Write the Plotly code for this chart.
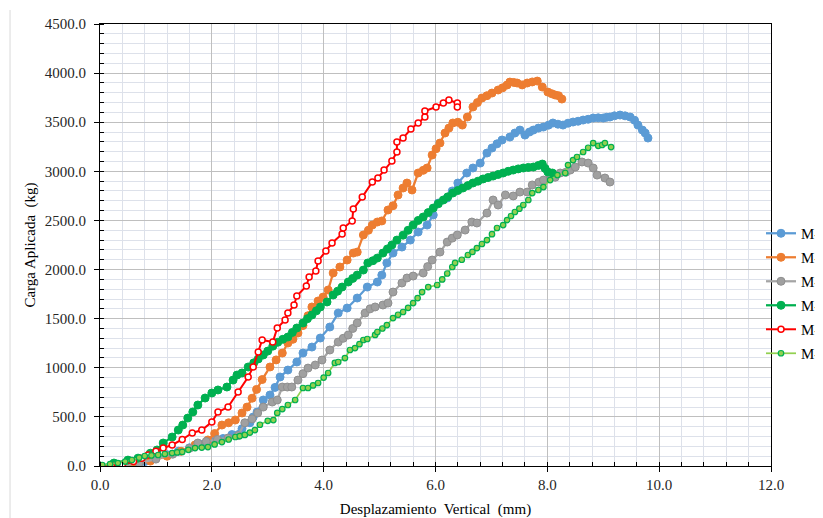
import plotly.graph_objects as go

# ---------------- data ----------------
m1_x = [0.0, 0.3, 0.6, 0.8, 1.0, 1.2, 1.4, 1.6, 1.8, 2.0,
        2.2, 2.36, 2.54, 2.68, 2.74, 2.81, 2.92, 3.04, 3.13, 3.22,
        3.36, 3.52, 3.63, 3.79, 3.94, 4.11, 4.26, 4.42, 4.6, 4.78,
        4.96, 5.04, 5.13, 5.24, 5.4, 5.55, 5.69, 5.85, 5.96, 6.05,
        6.21, 6.3, 6.4, 6.56, 6.67, 6.8, 6.92, 7.01, 7.1, 7.19,
        7.33, 7.42, 7.51, 7.6, 7.68, 7.75, 7.84, 7.93, 8.02, 8.1,
        8.19, 8.28, 8.37, 8.46, 8.55, 8.64, 8.73, 8.82, 8.91, 9.0,
        9.06, 9.12, 9.2, 9.3, 9.39, 9.48, 9.56, 9.62, 9.7, 9.75,
        9.8]
m1_y = [0, 0, 20, 45, 80, 115, 150, 185, 220, 250,
        280, 320, 380, 440, 499, 550, 672, 723, 800, 906,
        977, 1059, 1150, 1211, 1303, 1415, 1557, 1608, 1710, 1822,
        1873, 1944, 2067, 2168, 2229, 2300, 2382, 2453, 2555, 2677,
        2728, 2800, 2881, 2983, 3034, 3084, 3186, 3237, 3280, 3319,
        3349, 3390, 3420, 3369, 3400, 3420, 3440, 3451, 3470, 3492,
        3480, 3471, 3490, 3502, 3510, 3522, 3530, 3543, 3545, 3543,
        3550, 3553, 3565, 3573, 3565, 3553, 3520, 3471, 3420, 3390,
        3339]

m2_x = [0.0, 0.3, 0.6, 0.9, 1.2, 1.45, 1.7, 1.93, 2.05, 2.18,
        2.3, 2.42, 2.54, 2.63, 2.72, 2.8, 2.9, 3.04, 3.15, 3.26,
        3.36, 3.45, 3.54, 3.63, 3.72, 3.79, 3.9, 3.99, 4.08, 4.17,
        4.29, 4.42, 4.53, 4.6, 4.71, 4.8, 4.87, 4.96, 5.04, 5.15,
        5.24, 5.33, 5.42, 5.49, 5.58, 5.69, 5.78, 5.85, 5.94, 6.01,
        6.08, 6.17, 6.24, 6.31, 6.4, 6.48, 6.57, 6.67, 6.75, 6.83,
        6.92, 7.01, 7.12, 7.2, 7.28, 7.33, 7.4, 7.46, 7.55, 7.64,
        7.73, 7.82, 7.91, 8.01, 8.08, 8.14, 8.2, 8.26]
m2_y = [0, 5, 20, 50, 100, 150, 214, 265, 330, 417,
        440, 468, 540, 600, 690, 780, 880, 1008, 1080, 1150,
        1252, 1290, 1354, 1430, 1530, 1619, 1680, 1720, 1792, 1965,
        2026, 2097, 2168, 2178, 2352, 2400, 2453, 2484, 2495, 2606,
        2650, 2759, 2830, 2881, 2810, 2983, 3010, 3034, 3166, 3230,
        3288, 3390, 3440, 3492, 3500, 3471, 3553, 3655, 3700, 3746,
        3770, 3797, 3828, 3850, 3879, 3909, 3905, 3899, 3880, 3899,
        3910, 3919, 3858, 3807, 3790, 3777, 3770, 3736]

m3_x = [0.0, 0.4, 0.7, 1.0, 1.3, 1.6, 1.75, 1.9, 2.1, 2.29,
        2.47, 2.59, 2.72, 2.82, 2.92, 3.08, 3.17, 3.26, 3.35, 3.43,
        3.54, 3.63, 3.72, 3.85, 3.97, 4.11, 4.26, 4.35, 4.44, 4.52,
        4.6, 4.74, 4.83, 4.92, 5.06, 5.15, 5.24, 5.4, 5.49, 5.6,
        5.78, 5.86, 5.94, 6.08, 6.21, 6.3, 6.39, 6.53, 6.65, 6.74,
        6.92, 7.03, 7.12, 7.25, 7.39, 7.51, 7.64, 7.73, 7.85, 7.93,
        8.05, 8.14, 8.23, 8.33, 8.41, 8.5, 8.62, 8.73, 8.82, 8.89,
        9.03, 9.12]
m3_y = [0, 5, 30, 70, 120, 180, 234, 250, 270, 285,
        310, 440, 480, 540, 600, 651, 672, 804, 804, 804,
        875, 940, 997, 1028, 1079, 1181, 1262, 1300, 1334, 1400,
        1456, 1557, 1600, 1619, 1639, 1659, 1771, 1863, 1914, 1934,
        1965, 2030, 2097, 2178, 2280, 2320, 2352, 2402, 2484, 2474,
        2575, 2708, 2657, 2759, 2749, 2789, 2789, 2861, 2890, 2911,
        2962, 2940, 2983, 2990, 3013, 3044, 3095, 3084, 3034, 2962,
        2932, 2891]

m4_x = [0.0, 0.25, 0.5, 0.68, 0.9, 1.02, 1.13, 1.29, 1.4, 1.48,
        1.57, 1.66, 1.75, 1.88, 2.0, 2.11, 2.27, 2.38, 2.45, 2.54,
        2.65, 2.75, 2.83, 2.92, 3.0, 3.09, 3.18, 3.27, 3.36, 3.44,
        3.52, 3.63, 3.71, 3.79, 3.87, 3.94, 4.06, 4.17, 4.25, 4.33,
        4.44, 4.52, 4.6, 4.71, 4.79, 4.88, 4.96, 5.06, 5.14, 5.22,
        5.31, 5.42, 5.51, 5.6, 5.69, 5.78, 5.87, 5.96, 6.05, 6.14,
        6.22, 6.31, 6.4, 6.49, 6.58, 6.67, 6.76, 6.85, 6.94, 7.03,
        7.12, 7.21, 7.3, 7.39, 7.48, 7.57, 7.66, 7.75, 7.84, 7.91,
        7.96, 8.01, 8.09]
m4_y = [0, 30, 60, 80, 130, 163, 234, 295, 366, 417,
        488, 550, 621, 692, 743, 774, 804, 875, 926, 947,
        1008, 1050, 1090, 1130, 1170, 1220, 1260, 1290, 1313, 1360,
        1405, 1456, 1500, 1537, 1580, 1619, 1670, 1741, 1780, 1822,
        1873, 1910, 1944, 1995, 2067, 2090, 2117, 2168, 2210, 2250,
        2300, 2350, 2400, 2453, 2500, 2535, 2580, 2626, 2670, 2708,
        2740, 2779, 2805, 2830, 2855, 2881, 2900, 2922, 2937, 2952,
        2968, 2983, 3000, 3013, 3025, 3034, 3040, 3044, 3060, 3074,
        3030, 2993, 2983]

m5_x = [0.0, 0.2, 0.4, 0.6, 0.75, 0.86, 1.0, 1.13, 1.29, 1.47,
        1.65, 1.82, 2.0, 2.11, 2.29, 2.47, 2.65, 2.74, 2.83, 2.9,
        3.09, 3.17, 3.31, 3.36, 3.47, 3.52, 3.69, 3.74, 3.86, 3.9,
        4.04, 4.15, 4.33, 4.35, 4.51, 4.53, 4.69, 4.87, 4.97, 5.08,
        5.22, 5.31, 5.31, 5.42, 5.56, 5.69, 5.81, 5.81, 6.01, 6.14,
        6.24, 6.39, 6.39]
m5_y = [0, 5, 15, 45, 80, 112, 150, 183, 214, 270,
        336, 366, 448, 550, 600, 753, 906, 1008, 1160, 1283,
        1262, 1405, 1486, 1557, 1639, 1731, 1832, 1924, 1985, 2087,
        2189, 2270, 2362, 2423, 2494, 2616, 2738, 2891, 2932, 3013,
        3105, 3197, 3298, 3339, 3431, 3492, 3553, 3614, 3655, 3695,
        3726, 3695, 3655]

m6_x = [0.0, 0.04, 0.18, 0.32, 0.45, 0.57, 0.7, 0.8, 0.92, 1.04,
        1.16, 1.29, 1.38, 1.47, 1.58, 1.7, 1.82, 1.93, 2.05, 2.18,
        2.3, 2.42, 2.5, 2.59, 2.68, 2.77, 2.86, 3.0, 3.1, 3.17,
        3.26, 3.36, 3.49, 3.63, 3.72, 3.81, 3.9, 4.0, 4.08, 4.2,
        4.26, 4.38, 4.47, 4.56, 4.64, 4.71, 4.78, 4.92, 4.96, 5.05,
        5.13, 5.24, 5.33, 5.42, 5.51, 5.6, 5.68, 5.76, 5.87, 6.03,
        6.12, 6.21, 6.3, 6.35, 6.47, 6.58, 6.66, 6.74, 6.83, 6.92,
        7.01, 7.1, 7.21, 7.28, 7.35, 7.42, 7.5, 7.57, 7.66, 7.73,
        7.84, 7.93, 8.05, 8.18, 8.32, 8.37, 8.46, 8.53, 8.64, 8.73,
        8.82, 8.91, 8.98, 9.03, 9.14]
m6_y = [0, 10, 20, 30, 45, 61, 85, 102, 108, 112,
        122, 132, 138, 143, 165, 183, 188, 193, 220, 244,
        270, 295, 305, 316, 340, 366, 420, 460, 468, 540,
        580, 621, 672, 794, 794, 820, 845, 900, 947, 1049,
        1059, 1099, 1181, 1201, 1240, 1283, 1293, 1334, 1364, 1400,
        1435, 1506, 1540, 1568, 1610, 1659, 1710, 1771, 1822, 1843,
        1900, 1960, 2026, 2067, 2100, 2148, 2180, 2219, 2260, 2300,
        2360, 2423, 2453, 2504, 2545, 2586, 2620, 2657, 2708, 2779,
        2810, 2840, 2911, 2962, 2983, 3064, 3115, 3146, 3197, 3240,
        3288, 3260, 3268, 3288, 3247]

series_names = ["M-1", "M-2", "M-3", "M-4", "M-5", "M-6"]
x_ticks = [0, 2, 4, 6, 8, 10, 12]
y_ticks = [0, 500, 1000, 1500, 2000, 2500, 3000, 3500, 4000, 4500]

FONT = "Liberation Serif, Times New Roman, serif"

fig = go.Figure()

styles = [
    dict(line=dict(color="#5B9BD5", width=2.25),
         marker=dict(size=8, color="#5B9BD5", line=dict(color="#5B9BD5", width=1))),
    dict(line=dict(color="#ED7D31", width=2.25),
         marker=dict(size=8, color="#ED7D31", line=dict(color="#ED7D31", width=1))),
    dict(line=dict(color="#A5A5A5", width=2.25),
         marker=dict(size=8, color="#A0A0A0", line=dict(color="#8F8F8F", width=1))),
    dict(line=dict(color="#00B050", width=2.25),
         marker=dict(size=8, color="#00B050", line=dict(color="#00B050", width=1))),
    dict(line=dict(color="#FF0000", width=2),
         marker=dict(size=6, color="#FFFFFF", line=dict(color="#FF0000", width=1.5))),
    dict(line=dict(color="#92D050", width=1.75),
         marker=dict(size=5.5, color="#92D050", line=dict(color="#00B050", width=1.2))),
]
data = [(m1_x, m1_y), (m2_x, m2_y), (m3_x, m3_y), (m4_x, m4_y), (m5_x, m5_y), (m6_x, m6_y)]

for name, (xs, ys), st in zip(series_names, data, styles):
    fig.add_trace(go.Scatter(x=xs, y=ys, mode="lines+markers", name=name,
                             legendgroup=name, **st))

axis_common = dict(
    showline=True, linecolor="#000000", linewidth=1, mirror=True,
    ticks="outside", ticklen=5, tickcolor="#000000",
    showgrid=True, gridcolor="#BFBFBF", gridwidth=1,
    zeroline=False,
    tickfont=dict(family=FONT, size=15, color="#262626"),
)

fig.update_xaxes(
    range=[0, 12], tickvals=x_ticks, tickformat=".1f",
    minor=dict(dtick=0.4, tick0=0, ticks="inside", ticklen=4, tickcolor="#000000",
               showgrid=True, gridcolor="#DDE1EA", gridwidth=1),
    title=dict(text="Desplazamiento\u00a0 Vertical\u00a0 (mm)",
               font=dict(family=FONT, size=15, color="#000000"), standoff=17),
    **axis_common)
fig.update_yaxes(
    range=[0, 4500], tickvals=y_ticks, tickformat=".1f", ticklabelstandoff=5,
    minor=dict(dtick=100, tick0=0, ticks="inside", ticklen=4, tickcolor="#000000",
               showgrid=True, gridcolor="#DDE1EA", gridwidth=1),
    title=dict(text="Carga Aplicada\u00a0 (kg)",
               font=dict(family=FONT, size=15, color="#000000"), standoff=5),
    **axis_common)

# faint outer chart-area border on the left
fig.add_shape(type="line", xref="paper", yref="paper",
              x0=-0.1341, x1=-0.1341, y0=1.0317, y1=-0.2,
              line=dict(color="#D9D9D9", width=1))

# page body adds an 8px margin; size the figure so the plot area lands where the reference has it
fig.update_layout(
    width=815, height=510,
    margin=dict(l=92, r=52, t=16, b=52, autoexpand=False),
    paper_bgcolor="#FFFFFF", plot_bgcolor="#FFFFFF",
    font=dict(family=FONT, size=15, color="#000000"),
    showlegend=True,
    legend=dict(x=0.9851, y=0.5633, xanchor="left", yanchor="top",
                bgcolor="rgba(0,0,0,0)", borderwidth=0,
                font=dict(family=FONT, size=15, color="#000000"),
                tracegroupgap=1.5, itemwidth=30, traceorder="grouped"),
)

fig.write_html("out.html")
